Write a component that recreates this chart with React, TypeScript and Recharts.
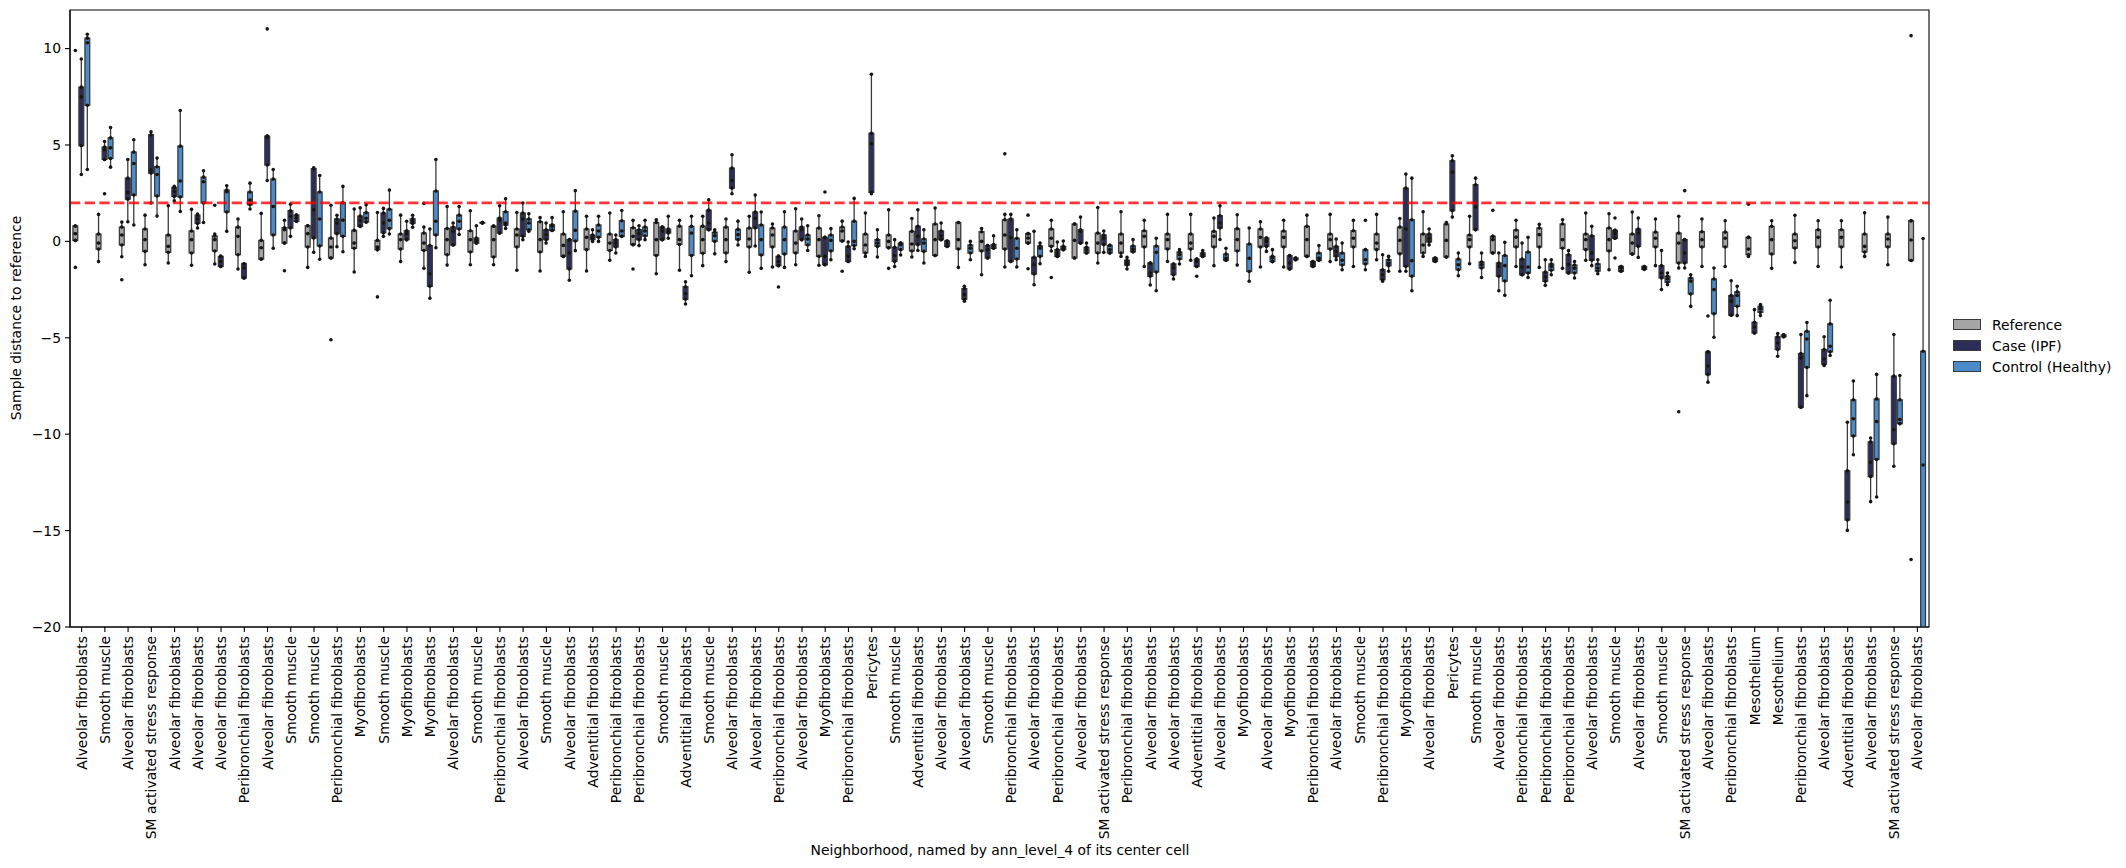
import React from 'react';
import { ComposedChart, Bar, XAxis, YAxis, ReferenceLine, ReferenceArea } from 'recharts';

// five-number summary per box: [whisker low, q1, median, q3, whisker high]
type Stat = [number, number, number, number, number] | null;

const CATEGORIES = [
  'Alveolar fibroblasts', 'Smooth muscle', 'Alveolar fibroblasts', 'SM activated stress response', 'Alveolar fibroblasts',
  'Alveolar fibroblasts', 'Alveolar fibroblasts', 'Peribronchial fibroblasts', 'Alveolar fibroblasts', 'Smooth muscle',
  'Smooth muscle', 'Peribronchial fibroblasts', 'Myofibroblasts', 'Smooth muscle', 'Myofibroblasts',
  'Myofibroblasts', 'Alveolar fibroblasts', 'Smooth muscle', 'Peribronchial fibroblasts', 'Alveolar fibroblasts',
  'Smooth muscle', 'Alveolar fibroblasts', 'Adventitial fibroblasts', 'Peribronchial fibroblasts', 'Peribronchial fibroblasts',
  'Smooth muscle', 'Adventitial fibroblasts', 'Smooth muscle', 'Alveolar fibroblasts', 'Alveolar fibroblasts',
  'Peribronchial fibroblasts', 'Alveolar fibroblasts', 'Myofibroblasts', 'Peribronchial fibroblasts', 'Pericytes',
  'Smooth muscle', 'Adventitial fibroblasts', 'Alveolar fibroblasts', 'Alveolar fibroblasts', 'Smooth muscle',
  'Peribronchial fibroblasts', 'Alveolar fibroblasts', 'Peribronchial fibroblasts', 'Alveolar fibroblasts', 'SM activated stress response',
  'Peribronchial fibroblasts', 'Alveolar fibroblasts', 'Alveolar fibroblasts', 'Adventitial fibroblasts', 'Alveolar fibroblasts',
  'Myofibroblasts', 'Alveolar fibroblasts', 'Myofibroblasts', 'Peribronchial fibroblasts', 'Alveolar fibroblasts',
  'Smooth muscle', 'Peribronchial fibroblasts', 'Myofibroblasts', 'Alveolar fibroblasts', 'Pericytes',
  'Smooth muscle', 'Alveolar fibroblasts', 'Peribronchial fibroblasts', 'Peribronchial fibroblasts', 'Peribronchial fibroblasts',
  'Alveolar fibroblasts', 'Smooth muscle', 'Alveolar fibroblasts', 'Smooth muscle', 'SM activated stress response',
  'Alveolar fibroblasts', 'Peribronchial fibroblasts', 'Mesothelium', 'Mesothelium', 'Peribronchial fibroblasts',
  'Alveolar fibroblasts', 'Adventitial fibroblasts', 'Alveolar fibroblasts', 'SM activated stress response', 'Alveolar fibroblasts',
];

const REF_STATS: Stat[] = [
  [0.05, 0.05, 0.4, 0.8, 0.8], [-1.05, -0.4, -0.09, 0.38, 1.4], [-0.8, -0.19, 0.33, 0.74, 1.0], [-1.21, -0.52, 0.09, 0.64, 1.36], [-1.12, -0.57, -0.26, 0.33, 1.85],
  [-1.24, -0.6, 0.09, 0.54, 1.66], [-1.17, -0.5, 0.09, 0.28, 0.38], [-1.43, -0.69, 0.26, 0.74, 1.16], [-0.92, -0.92, -0.33, 0.05, 1.45], [-0.09, -0.09, 0.6, 0.71, 1.09],
  [-1.35, -0.29, 0.4, 0.81, 0.81], [-0.86, -0.86, -0.29, 0.17, 1.87], [-1.59, -0.36, -0.09, 0.57, 1.68], [-0.43, -0.43, -0.29, 0.05, 1.5], [-1.05, -0.4, 0.09, 0.38, 1.36],
  [-1.4, -0.47, -0.09, 0.43, 0.74], [-1.23, -0.69, 0.09, 0.67, 1.81], [-1.21, -0.55, 0.09, 0.55, 1.59], [-1.21, -0.81, 0.09, 0.79, 0.79], [-1.5, -0.29, 0.33, 0.64, 1.5],
  [-1.54, -0.55, 0.09, 1.02, 1.23], [-0.78, -0.78, -0.21, 0.38, 1.54], [-1.54, -0.43, 0.21, 0.64, 1.3], [-0.98, -0.47, -0.09, 0.38, 1.47], [-0.17, -0.17, 0.26, 0.71, 1.09],
  [-1.68, -0.73, 0.09, 0.98, 1.12], [-1.5, -0.16, 0.09, 0.79, 1.09], [-1.26, -0.62, 0.09, 0.79, 1.3], [-1.05, -0.6, 0.09, 0.74, 1.16], [-1.6, -0.29, 0.12, 0.69, 1.3],
  [-1.33, -0.29, 0.33, 0.69, 0.9], [-1.21, -0.6, -0.09, 0.54, 1.69], [-1.24, -0.78, 0.09, 0.69, 1.33], [0.02, 0.02, 0.54, 0.74, 1.05], [-0.78, -0.6, -0.19, 0.38, 1.47],
  [-0.33, -0.33, 0, 0.33, 1.64], [-0.81, -0.5, -0.14, 0.52, 1.19], [-0.73, -0.73, 0.09, 0.9, 1.73], [-1.35, -0.4, 0.09, 0.98, 0.98], [-1.73, -0.5, 0, 0.5, 0.67],
  [-1.33, -0.4, 0.33, 1.12, 1.4], [-0.09, -0.09, 0.17, 0.4, 0.4], [-0.5, -0.26, 0.16, 0.64, 1.09], [-0.86, -0.86, 0.05, 0.9, 0.9], [-1.12, -0.6, -0.09, 0.43, 1.76],
  [-0.78, -0.6, -0.09, 0.38, 1.54], [-1.3, -0.29, 0.26, 0.55, 1.09], [-1.04, -0.4, 0.09, 0.38, 1.4], [-0.98, -0.4, -0.09, 0.38, 1.4], [-1.26, -0.29, 0.26, 0.52, 1.21],
  [-1.23, -0.5, 0.09, 0.66, 1.38], [-1.33, -0.29, 0.21, 0.64, 1.02], [-1.33, -0.29, 0.21, 0.54, 1.09], [-0.78, -0.78, 0.09, 0.78, 1.36], [-1.05, -0.4, 0.09, 0.38, 1.4],
  [-1.3, -0.29, 0.16, 0.55, 1.09], [-0.95, -0.43, -0.09, 0.38, 1.4], [-1.55, -0.64, 0.05, 0.74, 1.19], [-0.78, -0.6, -0.19, 0.38, 1.54], [-0.81, -0.81, 0.05, 0.9, 0.98],
  [-1.16, -0.29, 0.09, 0.33, 1.3], [-0.6, -0.6, 0.09, 0.26, 0.26], [-1.3, -0.29, 0.22, 0.59, 1.09], [-1.35, -0.29, 0.35, 0.69, 0.88], [-1.4, -0.36, 0.09, 0.9, 1.12],
  [-0.98, -0.43, 0.09, 0.38, 1.47], [-1.47, -0.5, 0.09, 0.69, 1.43], [-0.66, -0.66, -0.09, 0.38, 1.52], [-1.26, -0.29, 0.16, 0.48, 1.16], [-1.38, -1.12, -0.09, 0.43, 1.3],
  [-1.3, -0.29, 0.09, 0.5, 1.16], [-1.3, -0.29, 0.16, 0.48, 1.07], [-0.78, -0.69, -0.4, 0.21, 0.21], [-1.4, -0.66, 0.09, 0.78, 1.07], [-1.09, -0.35, 0.03, 0.38, 1.35],
  [-1.3, -0.29, 0.21, 0.6, 1.07], [-1.33, -0.29, 0.21, 0.6, 1.07], [-0.78, -0.55, -0.26, 0.38, 1.48], [-1.21, -0.29, 0.12, 0.38, 1.26], [-0.99, -0.99, 0.07, 1.07, 1.07],
];

const CASE_STATS: Stat[] = [
  [3.47, 4.96, 7.5, 8.0, 9.46], [4.25, 4.25, 4.75, 4.89, 5.18], [1.02, 2.19, 2.54, 3.28, 4.25], [1.99, 3.54, 3.7, 5.53, 5.68], [2.1, 2.33, 2.59, 2.8, 2.85],
  [0.69, 0.93, 1.16, 1.36, 1.42], [-1.3, -1.3, -1.04, -0.78, -0.78], [-1.9, -1.9, -1.38, -1.16, -1.16], [3.16, 3.96, 5.39, 5.46, 5.46], [0.26, 0.69, 1.3, 1.59, 1.93],
  [-0.57, 0.17, 1.64, 3.77, 3.82], [-0.28, 0.4, 0.95, 1.16, 1.35], [0.78, 0.78, 1.07, 1.31, 1.74], [0.26, 0.45, 0.95, 1.47, 1.71], [0.09, 0.09, 0.4, 0.55, 1.04],
  [-2.95, -2.33, -1.68, -0.22, 0.64], [-0.19, -0.19, 0.52, 0.74, 0.95], [-0.09, -0.09, 0.05, 0.17, 0.81], [0.43, 0.43, 1.09, 1.21, 1.85], [0.09, 0.26, 1.16, 1.47, 1.99],
  [-0.09, 0.09, 0.35, 0.6, 0.95], [-2.02, -1.43, -0.6, 0.09, 0.09], [0, 0.09, 0.19, 0.33, 0.6], [-0.6, -0.29, -0.09, 0.09, 0.33], [-0.22, 0.09, 0.4, 0.6, 0.81],
  [0.09, 0.09, 0.54, 0.74, 0.74], [-3.25, -3.0, -2.7, -2.35, -2.1], [0.6, 0.6, 0.95, 1.62, 2.16], [2.47, 2.76, 3.16, 3.8, 4.49], [-0.24, 0.69, 1.2, 1.52, 2.4],
  [-1.26, -1.26, -1.04, -0.78, -0.78], [0.09, 0.09, 0.6, 0.74, 1.16], [-1.21, -1.21, -0.78, 0.21, 0.21], [-1.04, -1.04, -0.78, -0.26, -0.03], [2.47, 2.54, 5.06, 5.61, 8.67],
  [-1.3, -1.04, -0.73, -0.31, 0.09], [-0.47, -0.17, 0.26, 0.78, 1.64], [0.09, 0.09, 0.29, 0.54, 0.95], [-3.1, -3.0, -2.75, -2.45, -2.33], [-0.86, -0.86, -0.43, -0.22, -0.22],
  [-1.04, -1.04, 0.2, 1.16, 1.4], [-2.25, -1.69, -1.21, -0.83, 0.52], [-0.78, -0.78, -0.6, -0.43, -0.03], [-0.09, -0.09, 0.52, 0.6, 1.26], [-0.57, -0.17, 0.16, 0.33, 0.54],
  [-1.43, -1.23, -1.12, -0.98, -0.83], [-2.26, -1.81, -1.64, -1.12, -1.12], [-1.95, -1.73, -1.38, -1.17, -1.17], [-1.3, -1.3, -1.04, -0.92, -0.92], [0.1, 0.69, 0.95, 1.33, 1.85],
  null, [-0.52, -0.26, 0, 0.17, 0.17], [-1.43, -1.43, -1.12, -0.74, -0.74], [-1.3, -1.3, -1.17, -1.05, -1.05], [-0.95, -0.78, -0.52, -0.26, 0.12],
  null, [-2.07, -1.99, -1.73, -1.47, -0.69], [-1.55, -1.3, 0.64, 2.76, 3.49], [-0.19, -0.03, 0.16, 0.38, 0.64], [1.26, 1.59, 3.59, 4.18, 4.44],
  [0.6, 0.6, 1.78, 2.94, 3.28], [-2.56, -1.81, -1.3, -1.12, -0.6], [-1.73, -1.73, -1.33, -0.92, -0.09], [-2.28, -2.07, -1.85, -1.59, -0.95], [-1.64, -1.64, -1.2, -0.69, -0.48],
  [-1.26, -0.98, -0.6, 0.29, 0.78], [0.16, 0.16, 0.4, 0.57, 0.57], [-0.83, -0.26, 0.43, 0.64, 1.21], [-2.5, -1.9, -1.64, -1.26, -0.47], [-1.38, -1.12, -0.6, 0.09, 0.09],
  [-7.3, -6.91, -6.47, -5.73, -5.73], [-3.83, -3.83, -3.1, -2.81, -2.04], [-4.75, -4.75, -4.44, -4.2, -3.54], [-5.96, -5.61, -5.27, -4.95, -4.78], [-8.6, -8.6, -6.04, -5.82, -4.83],
  [-6.44, -6.37, -6.1, -5.61, -4.95], [-14.99, -14.45, -13.52, -11.9, -9.38], [-13.5, -12.2, -11.45, -10.4, -10.2], [-11.66, -10.5, -9.76, -6.99, -4.83], null,
];

const CTRL_STATS: Stat[] = [
  [3.73, 7.06, 10.3, 10.54, 10.74], [3.85, 4.3, 4.85, 5.37, 5.9], [0.85, 2.4, 4.04, 4.63, 5.27], [1.31, 2.35, 3.47, 3.87, 4.32], [1.55, 2.3, 3.13, 4.94, 6.79],
  [0.98, 1.99, 3.09, 3.33, 3.66], [0.52, 1.52, 2.57, 2.66, 2.88], [1.68, 1.9, 2.14, 2.56, 3.02], [-0.36, 0.33, 1.81, 3.23, 3.73], [1.05, 1.05, 1.21, 1.36, 1.36],
  [-0.93, -0.24, 1.16, 2.56, 3.42], [-0.54, 0.26, 1.1, 2.0, 2.85], [1.0, 1.0, 1.2, 1.49, 1.9], [0.38, 0.66, 1.09, 1.67, 2.66], [0.73, 0.93, 1.05, 1.17, 1.35],
  [-0.33, 0.33, 1.04, 2.61, 4.25], [0.36, 0.64, 1.04, 1.36, 1.81], [0.95, 0.95, 0.97, 0.98, 0.98], [0.67, 0.85, 0.95, 1.54, 2.21], [0.52, 0.6, 0.95, 1.16, 1.43],
  [0.57, 0.57, 0.78, 0.86, 1.23], [-0.48, 0.02, 0.57, 1.57, 2.63], [0, 0.21, 0.54, 0.85, 1.3], [0.26, 0.26, 0.54, 1.07, 1.6], [0.09, 0.28, 0.54, 0.74, 1.09],
  [0.16, 0.43, 0.52, 0.64, 1.3], [-1.78, -0.73, 0.43, 0.78, 1.3], [-0.64, 0, 0.29, 0.47, 0.6], [-0.19, 0.09, 0.35, 0.62, 1.05], [-1.4, -0.71, 0.09, 0.85, 1.52],
  [-1.35, -0.66, 0.09, 0.74, 1.54], [-0.47, -0.19, 0.12, 0.33, 0.81], [-0.95, -0.5, 0.05, 0.33, 0.66], [-0.38, -0.22, 0, 1.05, 2.23], [-0.81, -0.26, -0.09, 0.09, 0.6],
  [-0.71, -0.43, -0.17, -0.09, -0.09], [-1.12, -0.52, -0.09, 0.12, 0.6], [-0.26, -0.26, -0.12, 0.02, 0.02], [-0.95, -0.6, -0.36, -0.19, 0], [-0.36, -0.36, -0.26, -0.16, 0.29],
  [-1.33, -0.92, -0.36, 0.16, 0.6], [-1.16, -0.78, -0.36, -0.24, -0.09], [-0.43, -0.43, -0.35, -0.26, 0.02], [-0.6, -0.6, -0.43, -0.31, -0.09], [-0.6, -0.6, -0.43, -0.21, -0.21],
  [-0.54, -0.54, -0.4, -0.24, 0.09], [-2.56, -1.59, -0.57, -0.24, 0.16], [-1.17, -0.92, -0.69, -0.55, -0.43], [-0.78, -0.78, -0.69, -0.6, -0.48], [-0.98, -0.98, -0.86, -0.66, -0.36],
  [-2.07, -1.56, -0.88, -0.14, 0.69], [-1.05, -1.05, -0.86, -0.78, -0.43], [-0.95, -0.95, -0.9, -0.86, -0.86], [-0.98, -0.98, -0.86, -0.6, -0.22], [-1.47, -1.23, -0.98, -0.6, -0.09],
  [-1.47, -1.17, -0.95, -0.43, -0.43], [-1.55, -1.26, -1.12, -0.95, -0.78], [-2.56, -1.81, -1.0, 1.12, 3.28], [-1.04, -1.04, -0.95, -0.86, -0.86], [-1.78, -1.47, -1.21, -0.92, -0.6],
  [-1.87, -1.38, -1.21, -1.07, -0.6], [-2.8, -2.06, -1.26, -0.73, -0.05], [-1.87, -1.64, -1.33, -0.55, 0.21], [-1.73, -1.5, -1.3, -1.17, -0.95], [-1.9, -1.64, -1.4, -1.23, -1.04],
  [-1.68, -1.54, -1.38, -1.17, -0.95], [-1.55, -1.55, -1.4, -1.3, -1.3], [-1.45, -1.45, -1.38, -1.3, -1.3], [-2.25, -2.12, -1.95, -1.81, -1.64], [-3.37, -2.73, -2.07, -1.9, -1.73],
  [-4.97, -3.75, -2.5, -1.95, -1.38], [-3.85, -3.37, -2.81, -2.62, -2.33], [-3.85, -3.68, -3.5, -3.37, -3.28], [-4.95, -4.95, -4.9, -4.85, -4.85], [-8.0, -6.54, -5.06, -4.66, -4.21],
  [-5.92, -5.73, -5.44, -4.28, -3.05], [-11.07, -10.1, -9.2, -8.22, -7.24], [-13.26, -11.31, -9.34, -8.17, -6.9], [-9.45, -9.45, -9.24, -8.22, -6.96], [-26, -24, -22, -5.7, 0.15],
];

// single samples drawn beyond / apart from the summary: [category index, value]
const REF_POINTS: [number, number][] = [
  [0, 9.9], [0, -1.35], [2, -1.99], [6, 1.87], [9, -1.52], [11, -5.1], [13, -2.88], [15, 1.97],
  [24, -1.43], [33, -1.55], [35, -1.4], [40, 4.54], [41, 1.36], [41, -1.42], [42, -1.87], [61, 1.61],
  [69, -8.84], [72, 1.93], [79, 10.67], [79, -16.5],
];
const CASE_POINTS: [number, number][] = [
  [1, 2.47], [8, 11.02], [30, -2.37], [32, 2.56], [48, -1.81], [66, 1.21], [66, -0.86], [69, 2.63], [70, -3.87],
];
const CTRL_POINTS: [number, number][] = [[55, 1.09], [79, -11.6]];

const Y_TICKS = [-20, -15, -10, -5, 0, 5, 10];
const Y_DOMAIN: [number, number] = [-20, 12];
const THRESHOLD = 2;

const FONT = '"DejaVu Sans", sans-serif';
const EDGE = '#3b3b3b';
const COLORS = { ref: '#a5a5a5', case: '#2c2d58', ctrl: '#4b8bc9' };

const SERIES = [
  { key: 'ref', name: 'Reference', stats: REF_STATS, points: REF_POINTS, fill: COLORS.ref },
  { key: 'case', name: 'Case (IPF)', stats: CASE_STATS, points: CASE_POINTS, fill: COLORS.case },
  { key: 'ctrl', name: 'Control (Healthy)', stats: CTRL_STATS, points: CTRL_POINTS, fill: COLORS.ctrl },
];

const rows = CATEGORIES.map((name, idx) => {
  const row: Record<string, any> = { idx, name };
  SERIES.forEach((s) => {
    const st = s.stats[idx];
    if (!st) return;
    const pts = s.points.filter(([i]) => i === idx).map(([, v]) => v);
    const all = [...st, ...pts];
    row[s.key] = { stats: st, points: pts };
    // bar spans every sample so the box can be placed inside it
    row[s.key + 'Range'] = [Math.min(...all), Math.max(...all)];
  });
  return row;
});

const fmt = (v: number) => (v < 0 ? '\u2212' + Math.abs(v) : String(v));

function boxShape(key: string, fill: string) {
  return function BoxShape(props: any) {
    const { x, y, width, height, payload } = props;
    const entry = payload?.[key];
    const range = payload?.[key + 'Range'];
    if (!entry || !range || !Number.isFinite(y)) return <g />;
    const [lo, q1, med, q3, hi] = entry.stats as number[];
    const [min, max] = range as number[];
    const top = Math.min(y, y + height);
    const span = Math.abs(height);
    const py = (v: number) => top + (span * (max - v)) / (max - min || 1);
    const cx = x + width / 2;
    const left = x + 0.6;
    const w = width - 1.2;
    const dots = [...entry.stats, ...entry.points];
    return (
      <g>
        <line x1={cx} x2={cx} y1={py(hi)} y2={py(q3)} stroke={EDGE} strokeWidth={1.3} />
        <line x1={cx} x2={cx} y1={py(q1)} y2={py(lo)} stroke={EDGE} strokeWidth={1.3} />
        <rect x={left} y={py(q3)} width={w} height={Math.max(py(q1) - py(q3), 0.6)} fill={fill} stroke={EDGE} strokeWidth={1.3} />
        <line x1={left} x2={left + w} y1={py(med)} y2={py(med)} stroke={EDGE} strokeWidth={1.3} />
        {dots.map((v: number, i: number) => (
          <circle key={i} cx={cx} cy={py(v)} r={1.8} fill="#151515" />
        ))}
      </g>
    );
  };
}

const CategoryTick = (props: any) => {
  const { x, y, payload } = props;
  return (
    <text
      transform={`translate(${x},${y}) rotate(-90)`}
      textAnchor="end"
      dominantBaseline="central"
      fontSize={13.9}
      fontFamily={FONT}
      fill="#000"
    >
      {CATEGORIES[payload.value]}
    </text>
  );
};

const textStyle: React.CSSProperties = {
  position: 'absolute',
  fontFamily: FONT,
  fontSize: 13.9,
  color: '#000',
  whiteSpace: 'nowrap',
};

export default function App() {
  return (
    <div style={{ position: 'absolute', left: 0, top: 0, width: 2126, height: 868, background: '#fff' }}>
      <ComposedChart
        width={2126}
        height={868}
        data={rows}
        margin={{ top: 10, right: 197, bottom: 0, left: 0 }}
        barCategoryGap="10%"
        barGap={0}
      >
        <XAxis
          dataKey="idx"
          type="category"
          interval={0}
          height={241}
          tick={<CategoryTick />}
          tickSize={5}
          tickMargin={4}
          tickLine={{ stroke: '#000', strokeWidth: 1.1 }}
          axisLine={{ stroke: '#000', strokeWidth: 1.1 }}
        />
        <YAxis
          type="number"
          domain={Y_DOMAIN}
          ticks={Y_TICKS}
          allowDataOverflow
          width={70}
          tickSize={5}
          tickMargin={4}
          tickFormatter={fmt}
          tick={{ fontSize: 13.9, fill: '#000', fontFamily: FONT }}
          tickLine={{ stroke: '#000', strokeWidth: 1.1 }}
          axisLine={{ stroke: '#000', strokeWidth: 1.1 }}
        />
        {SERIES.map((s) => (
          <Bar
            key={s.key}
            dataKey={s.key + 'Range'}
            name={s.name}
            fill={s.fill}
            shape={boxShape(s.key, s.fill)}
            isAnimationActive={false}
          />
        ))}
        <ReferenceLine y={THRESHOLD} stroke="#ff0000" strokeOpacity={0.8} strokeWidth={2.8} strokeDasharray="10.3 4.4" />
        {/* frame around the plot area */}
        <ReferenceArea
          x1={0}
          x2={CATEGORIES.length - 1}
          y1={Y_DOMAIN[0]}
          y2={Y_DOMAIN[1]}
          fill="none"
          fillOpacity={0}
          stroke="#000"
          strokeWidth={1.1}
          ifOverflow="visible"
        />
      </ComposedChart>

      <div style={{ ...textStyle, left: 16, top: 318, transform: 'translate(-50%, -50%) rotate(-90deg)' }}>
        Sample distance to reference
      </div>
      <div style={{ ...textStyle, left: 1000, top: 850, transform: 'translate(-50%, -50%)' }}>
        Neighborhood, named by ann_level_4 of its center cell
      </div>

      <div style={{ position: 'absolute', left: 1953, top: 314 }}>
        {SERIES.map((s) => (
          <div key={s.key} style={{ display: 'flex', alignItems: 'center', height: 21 }}>
            <div style={{ width: 26, height: 9, background: s.fill, border: `1px solid ${EDGE}` }} />
            <span style={{ fontFamily: FONT, fontSize: 13.9, marginLeft: 11, color: '#000' }}>{s.name}</span>
          </div>
        ))}
      </div>
    </div>
  );
}
